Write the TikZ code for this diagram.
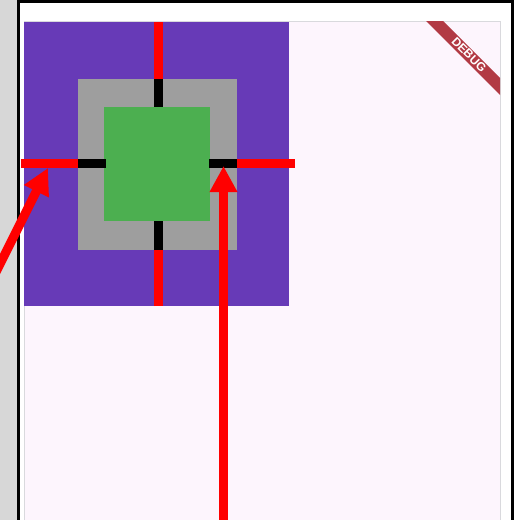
\documentclass[tikz,border=0pt]{standalone}
\usepackage{fontspec}
\usepackage{xcolor}
\usepackage{tikz}
\usetikzlibrary{arrows.meta}
\newfontfamily\bannerfont{Liberation Sans}
\definecolor{sidegray}{HTML}{D7D7D7}
\definecolor{pagepink}{HTML}{FDF5FD}
\definecolor{framegray}{HTML}{D9D9DD}
\definecolor{deeppurple}{HTML}{673AB7}
\definecolor{midgray}{HTML}{9E9E9E}
\definecolor{leafgreen}{HTML}{4CAF50}
\definecolor{bannerred}{HTML}{B23A44}

\begin{document}
\begin{tikzpicture}[x=1pt, y=-1pt,
  box/.style={inner sep=0pt, outer sep=0pt, draw=none},
  redbar/.style={draw=red, line width=9pt},
  blackbar/.style={draw=black, line width=9pt},
  pointer/.style={draw=red, line width=9pt, -{Triangle[length=26pt, width=26pt]}}]
\useasboundingbox (0,0) rectangle (518,520);
% window frame
\fill[white] (0,0) rectangle (518,520);
\fill[sidegray] (0,0) rectangle (17,520);
\fill[black] (17,0) rectangle (19.5,520);
\fill[black] (17,0) rectangle (514,2.5);
\fill[black] (511,0) rectangle (514,520);
\filldraw[fill=pagepink, draw=framegray, line width=1pt] (24.5,21) rectangle (500.5,530);
% debug banner
\fill[bannerred] (426,21) -- (443,21) -- (500,78) -- (500,95) -- cycle;
\node[text=white, rotate=-45, inner sep=0pt, font=\bannerfont\bfseries\fontsize{12}{12}\selectfont] (debug) at (469,54.5) {DEBUG};
% nested boxes
\node[box, fill=deeppurple, minimum width=265pt, minimum height=284pt] (outer) at (156.5,164) {};
\node[box, fill=midgray, minimum width=159pt, minimum height=171pt] (mid) at (157.5,164.5) {};
\node[box, fill=leafgreen, minimum width=106pt, minimum height=114pt] (inner) at (157,164) {};
\coordinate (cross) at (158,163.5);
% bars through the boxes
\draw[redbar] (outer.north -| cross) -- (mid.north -| cross);
\draw[blackbar] (mid.north -| cross) -- (inner.north -| cross);
\draw[redbar] (outer.south -| cross) -- (mid.south -| cross);
\draw[blackbar] (mid.south -| cross) -- (inner.south -| cross);
\draw[redbar] ([xshift=-3pt]outer.west |- cross) -- (mid.west |- cross);
\draw[blackbar] (mid.west |- cross) -- ([xshift=2pt]inner.west |- cross);
\draw[redbar] ([xshift=6pt]outer.east |- cross) -- (mid.east |- cross);
\draw[blackbar] (mid.east |- cross) -- ([xshift=-1pt]inner.east |- cross);
% pointers
\coordinate (lefttip) at (48,168);
\coordinate (lefttail) at (-12,288);
\coordinate (righttip) at (223.5,166);
\coordinate (righttail) at (223.5,530);
\draw[pointer] (lefttail) -- (lefttip);
\draw[pointer] (righttail) -- (righttip);
\end{tikzpicture}
\end{document}
